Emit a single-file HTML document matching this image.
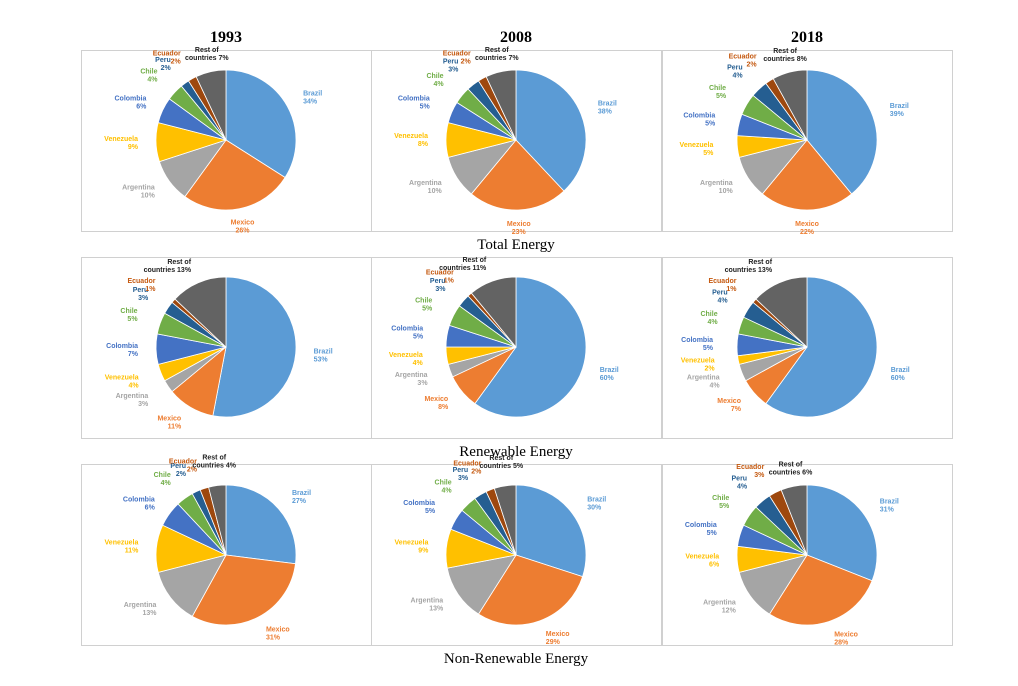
<!DOCTYPE html>
<html><head><meta charset="utf-8"><style>
body{margin:0;background:#fff;}
svg{display:block;font-family:"Liberation Sans",sans-serif;}
</style></head><body>
<svg id="c" width="1018" height="686"></svg>
<script>
const countries=["Brazil","Mexico","Argentina","Venezuela","Colombia","Chile","Peru","Ecuador","Rest of countries"];
const colors=["#5b9bd5","#ed7d31","#a5a5a5","#ffc000","#4472c4","#70ad47","#255e91","#9e480e","#636363"];
const labelColors=["#5b9bd5","#ed7d31","#a5a5a5","#ffc000","#4472c4","#70ad47","#255e91","#c55a11","#222"];
const years=["1993","2008","2018"];
const rowTitles=["Total Energy","Renewable Energy","Non-Renewable Energy"];
const total1993=[34,26,10,9,6,4,2,2,7];
const total2008=[38,23,10,8,5,4,3,2,7];
const total2018=[39,22,10,5,5,5,4,2,8];
const renew1993=[53,11,3,4,7,5,3,1,13];
const renew2008=[60,8,3,4,5,5,3,1,11];
const renew2018=[60,7,4,2,5,4,4,1,13];
const nonren1993=[27,31,13,11,6,4,2,2,4];
const nonren2008=[30,29,13,9,5,4,3,2,5];
const nonren2018=[31,28,12,6,5,5,4,3,6];
const grid=[[total1993,total2008,total2018],[renew1993,renew2008,renew2018],[nonren1993,nonren2008,nonren2018]];

const svg=document.getElementById('c');
const NS="http://www.w3.org/2000/svg";
function mk(t,a,p){const e=document.createElementNS(NS,t);for(const k in a)e.setAttribute(k,a[k]);(p||svg).appendChild(e);return e;}
const colX=[81,371,662],colW=[290,290,290],rowY=[50,257,464],rowH=181;
const cx=[226,516,807],cy=[140,347,555],R=70;
years.forEach((y,i)=>{const t=mk('text',{x:cx[i],y:42,'text-anchor':'middle','font-size':16,'font-weight':'bold','font-family':'Liberation Serif, serif'});t.textContent=y;

});
rowTitles.forEach((r,j)=>{const t=mk('text',{x:516,y:rowY[j]+rowH+18,'text-anchor':'middle','font-size':15,'font-family':'Liberation Serif, serif'});t.textContent=r;

});
grid.forEach((row,j)=>row.forEach((vals,i)=>{
  const g=mk('g',{});
  
  
  const fr=mk('rect',{x:colX[i]+0.5,y:rowY[j]+0.5,width:colW[i],height:rowH,fill:'none',stroke:'#d0d0d0'},g);
  
  
  const sum=vals.reduce((a,b)=>a+b,0);
  let a0=-Math.PI/2;
  const X=cx[i],Y=cy[j];
  vals.forEach((v,k)=>{
    const a1=a0+v/sum*2*Math.PI;
    const large=(a1-a0)>Math.PI?1:0;
    const d=`M${X},${Y} L${X+R*Math.cos(a0)},${Y+R*Math.sin(a0)} A${R},${R} 0 ${large} 1 ${X+R*Math.cos(a1)},${Y+R*Math.sin(a1)} Z`;
    const p=mk('path',{d:d,fill:colors[k],stroke:'#fff','stroke-width':0.8},g);
    
    
    const am=(a0+a1)/2;
    const lr=R+(v<6?24:18);
    const lx=X+lr*Math.cos(am),ly=Y+lr*Math.sin(am);
    const anchor=Math.cos(am)>0.3?'start':(Math.cos(am)<-0.3?'end':'middle');
    const t=mk('text',{x:lx,y:ly-2,'text-anchor':anchor,'font-size':7,'font-weight':'bold',fill:labelColors[k]},g);
    
    
    if(k===8){
      const s1=mk('tspan',{x:lx},t);s1.textContent='Rest of';
      const s2=mk('tspan',{x:lx,dy:8},t);s2.textContent='countries '+v+'%';
    }else{
      const s1=mk('tspan',{x:lx},t);s1.textContent=countries[k];
      const s2=mk('tspan',{x:lx,dy:8},t);s2.textContent=v+'%';
    }
    a0=a1;
  });
}));
</script>
</body></html>
